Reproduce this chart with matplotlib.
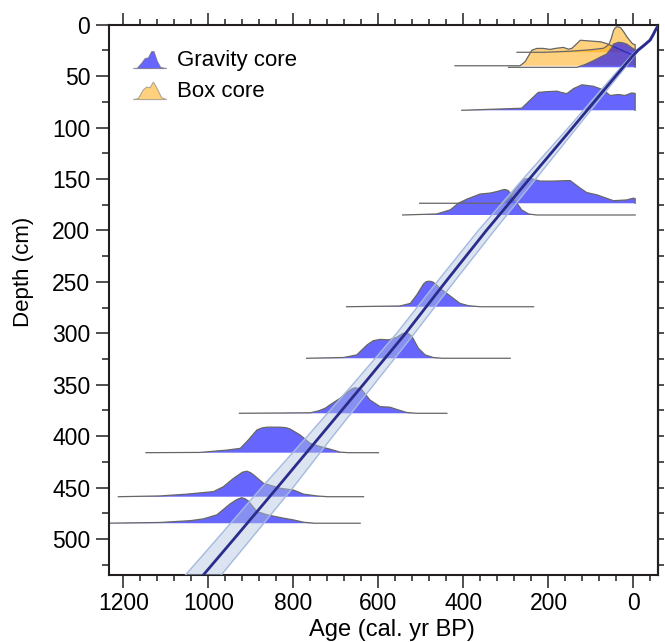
import matplotlib
matplotlib.use('agg')
import matplotlib.pyplot as plt
import numpy as np
from matplotlib.patches import Patch, Polygon
from matplotlib.legend_handler import HandlerBase
from matplotlib.ticker import MultipleLocator

plt.rcParams['font.family'] = ['Liberation Sans', 'DejaVu Sans']

# age-depth model (median age and half width of the range)
model_depth = [0, 5, 10, 15, 20, 25, 30, 50, 100, 150, 200, 250, 300, 350, 400, 450, 500, 535]
model_age = [-59, -52, -46, -39, -25, -10, 1, 42, 143, 245, 346, 442, 536, 636, 737, 838, 940, 1012]
model_err = [1, 1.5, 2, 2.5, 3, 3.5, 4, 6, 10, 15, 19, 20, 21, 25, 30, 37, 40, 42]

# calibrated age distributions, box core
box_a_depth = 26.8
box_a_age = [274, 210, 150, 100, 70, 58, 52, 47, 43, 39, 34, 30, 22, 16, 8, 2, -4, -4]
box_a_dens = [0, 0, 0.04, 0.1, 0.16, 0.3, 0.55, 0.85, 0.96, 1.0, 0.99, 0.96, 0.78, 0.62, 0.45, 0.33, 0.3, 0]

box_b_depth = 39.9
box_b_age = [420, 267, 255, 239, 227, 212, 196, 184, 165, 153, 145, 125, 102, 78, 63, 55, 40, 20, 5, -4, -4]
box_b_dens = [0, 0, 0.16, 0.61, 0.68, 0.68, 0.64, 0.68, 0.72, 0.65, 0.68, 1.0, 0.97, 0.94, 0.87, 0.81, 0.7, 0.55, 0.45, 0.4, 0]

# calibrated age distributions, gravity core
g1_depth = 41.4
g1_age = [294, 133, 115, 94, 78, 63, 52, 47, 35, 25, 16, 8, 0, -4, -4]
g1_dens = [0, 0, 0.1, 0.26, 0.4, 0.52, 0.75, 0.91, 0.98, 0.96, 0.91, 0.82, 0.72, 0.7, 0]

g2_depth = 83.2
g2_age = [404, 263, 243, 224, 204, 180, 172, 157, 141, 121, 94, 71, 55, 35, 20, 4, -4, -4]
g2_dens = [0, 0.08, 0.4, 0.7, 0.73, 0.75, 0.71, 0.65, 0.85, 1.0, 0.94, 0.8, 0.58, 0.62, 0.58, 0.68, 0.66, 0]

g3_depth = 173.6
g3_age = [503, 306, 290, 274, 259, 243, 220, 188, 169, 149, 125, 110, 86, 47, 16, 0, -4, -4]
g3_dens = [0, 0, 0.26, 0.65, 0.94, 0.98, 0.87, 0.87, 0.88, 0.89, 0.59, 0.42, 0.33, 0.1, 0.13, 0.2, 0.18, 0]

g4_depth = 185.0
g4_age = [543, 463, 431, 412, 392, 361, 337, 321, 309, 302, 295, 290, 274, 263, 247, 228, -4]
g4_dens = [0, 0.04, 0.2, 0.46, 0.62, 0.82, 0.86, 0.92, 0.98, 1.0, 0.96, 0.86, 0.46, 0.2, 0.04, 0, 0]

g5_depth = 274.2
g5_age = [675, 549, 525, 510, 494, 488, 482, 476, 471, 455, 439, 424, 408, 388, 360, 235]
g5_dens = [0, 0.03, 0.13, 0.46, 0.89, 0.98, 1.0, 0.99, 0.96, 0.72, 0.52, 0.33, 0.13, 0.04, 0, 0]

g6_depth = 324.3
g6_age = [769, 682, 651, 627, 612, 596, 576, 557, 544, 537, 529, 521, 506, 490, 471, 450, 290]
g6_dens = [0, 0.03, 0.13, 0.52, 0.69, 0.74, 0.72, 0.82, 0.96, 1.0, 0.96, 0.85, 0.39, 0.13, 0.03, 0, 0]

g7_depth = 377.8
g7_age = [927, 760, 740, 725, 714, 690, 671, 662, 655, 648, 639, 620, 596, 573, 553, 533, 510, 439]
g7_dens = [0, 0.02, 0.1, 0.2, 0.33, 0.59, 0.85, 0.96, 1.0, 0.98, 0.92, 0.52, 0.26, 0.24, 0.13, 0.03, 0, 0]

g8_depth = 416.1
g8_age = [1147, 1020, 957, 925, 906, 886, 874, 862, 831, 818, 808, 784, 761, 737, 706, 690, 670, 600]
g8_dens = [0, 0.01, 0.1, 0.17, 0.5, 0.89, 0.97, 1.0, 1.0, 0.98, 0.93, 0.69, 0.37, 0.24, 0.1, 0.02, 0, 0]

g9_depth = 458.9
g9_age = [1212, 1114, 1051, 988, 965, 941, 920, 910, 902, 894, 871, 831, 800, 776, 745, 720, 635]
g9_dens = [0, 0.03, 0.1, 0.2, 0.39, 0.72, 0.96, 1.0, 0.95, 0.86, 0.53, 0.33, 0.26, 0.1, 0.03, 0, 0]

g10_depth = 484.7
g10_age = [1250, 1114, 1043, 1012, 980, 949, 933, 922, 914, 906, 886, 862, 824, 800, 776, 750, 643]
g10_dens = [0, 0.03, 0.1, 0.17, 0.33, 0.76, 0.93, 1.0, 0.96, 0.87, 0.46, 0.33, 0.2, 0.13, 0.04, 0, 0]

box_dists = [(box_a_depth, box_a_age, box_a_dens), (box_b_depth, box_b_age, box_b_dens)]
gravity_dists = [(g1_depth, g1_age, g1_dens), (g2_depth, g2_age, g2_dens),
                 (g4_depth, g4_age, g4_dens), (g3_depth, g3_age, g3_dens),
                 (g5_depth, g5_age, g5_dens), (g6_depth, g6_age, g6_dens),
                 (g7_depth, g7_age, g7_dens), (g8_depth, g8_age, g8_dens),
                 (g9_depth, g9_age, g9_dens), (g10_depth, g10_age, g10_dens)]

HEIGHT = 24.8  # peak height of a distribution, in cm of depth


class MoundHandler(HandlerBase):
    def __init__(self, xs, ys):
        super().__init__()
        self.xs = np.array(xs)
        self.ys = np.array(ys)

    def create_artists(self, legend, orig_handle, xdescent, ydescent,
                       width, height, fontsize, trans):
        pts = np.column_stack([-xdescent + self.xs * width,
                               -ydescent - 0.15 * height + self.ys * height * 1.15])
        poly = Polygon(pts, closed=True)
        poly.update_from(orig_handle)
        poly.set_transform(trans)
        return [poly]


fig = plt.figure(figsize=(6.65, 6.42), dpi=100)
ax = fig.add_axes([0.1639, 0.1044, 0.8251, 0.8571])

for base, ages, dens in box_dists:
    top = base - HEIGHT * np.array(dens)
    ax.fill_between(ages, base, top, facecolor='orange', alpha=0.5, lw=0, zorder=1)
    ax.plot(ages, top, color='#666666', lw=0.9, zorder=1.5)

for base, ages, dens in gravity_dists:
    top = base - HEIGHT * np.array(dens)
    ax.fill_between(ages, base, top, facecolor='blue', alpha=0.6, lw=0, zorder=2)
    ax.plot(ages, top, color='#666666', lw=0.9, zorder=2.5)

age = np.array(model_age)
err = np.array(model_err)
ax.fill_betweenx(model_depth, age - err, age + err, facecolor='lightsteelblue',
                 alpha=0.45, lw=0, zorder=3)
ax.plot(age - err, model_depth, color='#a4b9e0', lw=1, zorder=3.2)
ax.plot(age + err, model_depth, color='#a4b9e0', lw=1, zorder=3.2)
ax.plot(age, model_depth, color='#2a2c8c', lw=2, zorder=4)

ax.set_xlim(1234, -57)
ax.set_ylim(535, 0)

ax.xaxis.set_major_locator(MultipleLocator(200))
ax.xaxis.set_minor_locator(MultipleLocator(40))
ax.yaxis.set_major_locator(MultipleLocator(50))
ax.yaxis.set_minor_locator(MultipleLocator(25))

for sp in ax.spines.values():
    sp.set_linewidth(1.5)
    sp.set_color('#231f20')

ax.tick_params(axis='x', which='both', direction='out', top=True, bottom=True,
               labeltop=False, width=1.1, color='#231f20')
ax.tick_params(axis='x', which='major', length=9, labelsize=16.5, pad=3)
ax.tick_params(axis='x', which='minor', length=4)
ax.tick_params(axis='y', which='both', direction='out', left=True, right=False,
               width=1.1, color='#231f20')
ax.tick_params(axis='y', which='major', length=9.5, labelsize=16.5, pad=4)
ax.tick_params(axis='y', which='minor', length=5)

sec = ax.secondary_yaxis('right')
sec.set_yticks(np.arange(25, 535, 25))
sec.tick_params(axis='y', which='major', length=4.3, width=1.1, labelright=False,
                color='#231f20')
sec.spines['right'].set_linewidth(1.5)
sec.spines['right'].set_color('#231f20')

ax.set_xlabel('Age (cal. yr BP)', fontsize=17)
ax.xaxis.set_label_coords(0.516, -0.08)
ax.xaxis.label.set_va('top')
ax.set_ylabel('Depth (cm)', fontsize=16)
ax.yaxis.set_label_coords(-0.137, 0.5515)

h_grav = Patch(facecolor='blue', alpha=0.6, edgecolor='#666666', lw=0.8)
h_box = Patch(facecolor='orange', alpha=0.5, edgecolor='#666666', lw=0.8)
grav_shape = ([0, 0.12, 0.25, 0.35, 0.45, 0.55, 0.62, 0.72, 0.82, 1.0],
              [0, 0.02, 0.3, 0.55, 0.6, 0.95, 0.95, 0.4, 0.06, 0])
box_shape = ([0, 0.15, 0.3, 0.4, 0.5, 0.6, 0.7, 0.85, 1.0],
             [0, 0.06, 0.55, 0.7, 0.66, 0.98, 0.66, 0.1, 0])
ax.legend([h_grav, h_box], ['Gravity core', 'Box core'],
          handler_map={h_grav: MoundHandler(*grav_shape), h_box: MoundHandler(*box_shape)},
          loc='upper left', bbox_to_anchor=(0.008, 0.99), frameon=False, fontsize=16,
          handlelength=1.5, handletextpad=0.45, labelspacing=0.45)

fig.savefig('out.png', dpi=100)
